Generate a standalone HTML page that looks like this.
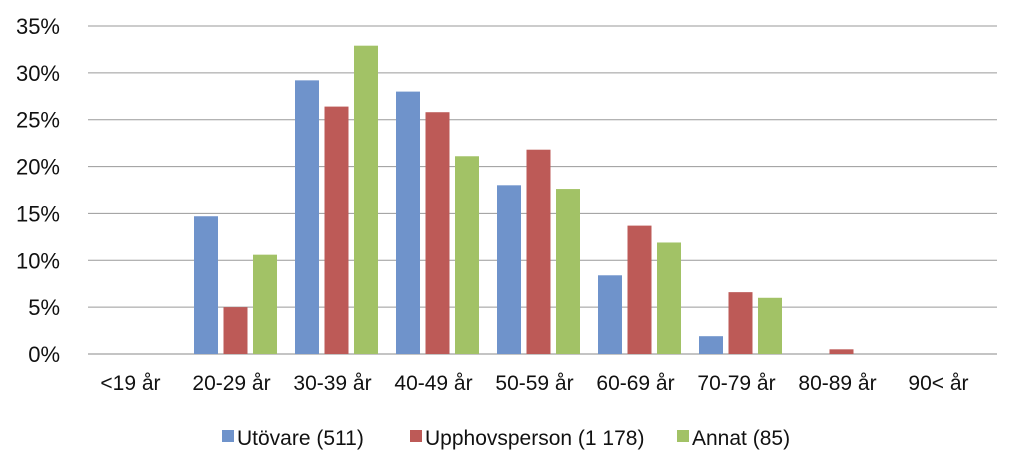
<!DOCTYPE html>
<html><head><meta charset="utf-8">
<style>
html,body{margin:0;padding:0;background:#fff;}
svg{display:block;font-family:"Liberation Sans",sans-serif;}
</style></head>
<body>
<svg id="chart" width="1024" height="472" viewBox="0 0 1024 472" xmlns="http://www.w3.org/2000/svg">
<g id="grid"></g>
<g id="yaxis"></g>
<g id="bars"></g>
<g id="xaxis"></g>
<g id="legend"></g>
</svg>
<script>
const categories = ["<19 år","20-29 år","30-39 år","40-49 år","50-59 år","60-69 år","70-79 år","80-89 år","90< år"];
const utovare = [0,14.7,29.2,28.0,18.0,8.4,1.9,0,0];
const upphovsperson = [0,5.0,26.4,25.8,21.8,13.7,6.6,0.5,0];
const annat = [0,10.6,32.9,21.1,17.6,11.9,6.0,0,0];
const seriesNames = ["Utövare (511)","Upphovsperson (1 178)","Annat (85)"];
const yTicks = [0,5,10,15,20,25,30,35];

const NS="http://www.w3.org/2000/svg";
const colors=["#6f93cb","#bd5a57","#a2c266"];
const left=84, right=997, catW=101, y0=354, yTop=26, yMax=35;
function yScale(v){return y0-(v/yMax)*(y0-yTop);}
function xCenter(i){return left+catW/2+i*catW;}
function mk(tag,attrs,parent){const e=document.createElementNS(NS,tag);for(const k in attrs)e.setAttribute(k,attrs[k]);parent.appendChild(e);return e;}

const grid=document.getElementById('grid'), yaxis=document.getElementById('yaxis');
yTicks.forEach(t=>{
  const y=yScale(t);
  const l=mk('line',{x1:88,x2:right,y1:y,y2:y,stroke:t===0?'#8a8a8a':'#9a9a9a','stroke-width':1},grid);
  
  
  const tx=mk('text',{x:60,y:y+8,'text-anchor':'end','font-size':22,fill:'#111'},yaxis);
  tx.textContent=t+'%';
  
  
});

const bars=document.getElementById('bars');
const all=[utovare,upphovsperson,annat];
const bw=24, step=29.5;
all.forEach((s,si)=>{
  s.forEach((v,i)=>{
    if(v<=0)return;
    const x=xCenter(i)+(si-1)*step-bw/2;
    const r=mk('rect',{x:x,y:yScale(v),width:bw,height:y0-yScale(v),fill:colors[si]},bars);
    
    
  });
});

const xaxis=document.getElementById('xaxis');
categories.forEach((c,i)=>{
  const t=mk('text',{x:xCenter(i)-4,y:390,'text-anchor':'middle','font-size':21,fill:'#111'},xaxis);
  t.textContent=c;
  
  
});

const legend=document.getElementById('legend');
const lx=[222,410,677];
seriesNames.forEach((n,i)=>{
  const sq=mk('rect',{x:lx[i],y:430,width:12,height:12,fill:colors[i]},legend);
  
  
  const t=mk('text',{x:lx[i]+15,y:445,'font-size':21,fill:'#111'},legend);
  t.textContent=n;
  
  
});
</script>
</body></html>
